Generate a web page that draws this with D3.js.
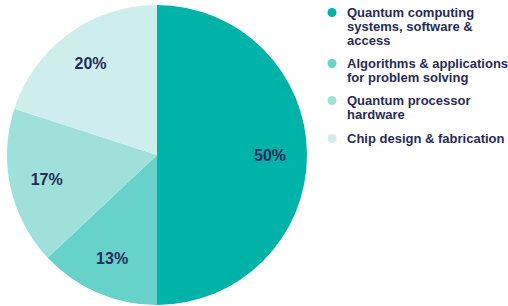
<!DOCTYPE html>
<html>
<head>
<meta charset="utf-8">
<script src="https://cdn.jsdelivr.net/npm/d3@7"></script>
<style>
  body { margin: 0; background: #fff; }
  svg { display: block; font-family: "Liberation Sans", Arial, sans-serif; }
</style>
</head>
<body>
<div id="chart"></div>
<script>
// data
const categories = [
  "Quantum computing systems, software & access",
  "Algorithms & applications for problem solving",
  "Quantum processor hardware",
  "Chip design & fabrication",
];
const shares = [50, 13, 17, 20];
// legend labels, wrapped as in the picture
const legendLines = [
  ["Quantum computing", "systems, software &", "access"],
  ["Algorithms & applications", "for problem solving"],
  ["Quantum processor", "hardware"],
  ["Chip design & fabrication"],
];
const colors = ["#00b3a9", "#66d2ca", "#9fe0da", "#cdeeec"];

const width = 508;
const height = 306;
const radius = 150;
const textColor = "#262b5c";

const svg = d3
  .select("#chart")
  .append("svg")
  .attr("width", width)
  .attr("height", height);

const color = d3.scaleOrdinal().domain(categories).range(colors);

const pie = d3
  .pie()
  .sort(null)
  .value((d) => d.value);

const arcs = pie(categories.map((c, i) => ({ name: c, value: shares[i] })));

const arc = d3.arc().innerRadius(0).outerRadius(radius);
const labelArc = d3.arc().innerRadius(113).outerRadius(113);

const g = svg.append("g").attr("transform", "translate(157,155)");

g.selectAll("path")
  .data(arcs)
  .join("path")
  .attr("d", arc)
  .attr("fill", (d) => color(d.data.name));

g.selectAll("text")
  .data(arcs)
  .join("text")
  .attr("transform", (d) => `translate(${labelArc.centroid(d)})`)
  .attr("text-anchor", "middle")
  .attr("dy", "0.36em")
  .attr("font-size", 16)
  .attr("font-weight", "bold")
  .attr("fill", textColor)
  .text((d) => d.data.value + "%");

// legend
const rowTops = [17, 68, 105, 143];
const lineHeight = 14;

const legend = svg
  .append("g")
  .selectAll("g")
  .data(categories)
  .join("g")
  .attr("transform", (d, i) => `translate(332,${rowTops[i]})`);

legend
  .append("circle")
  .attr("cy", -4.5)
  .attr("r", 4.5)
  .attr("fill", (d) => color(d));

legend
  .append("text")
  .attr("font-size", 13)
  .attr("font-weight", "bold")
  .attr("fill", textColor)
  .selectAll("tspan")
  .data((d, i) => legendLines[i])
  .join("tspan")
  .attr("x", 15)
  .attr("y", (d, j) => j * lineHeight)
  .text((d) => d);
</script>
</body>
</html>
